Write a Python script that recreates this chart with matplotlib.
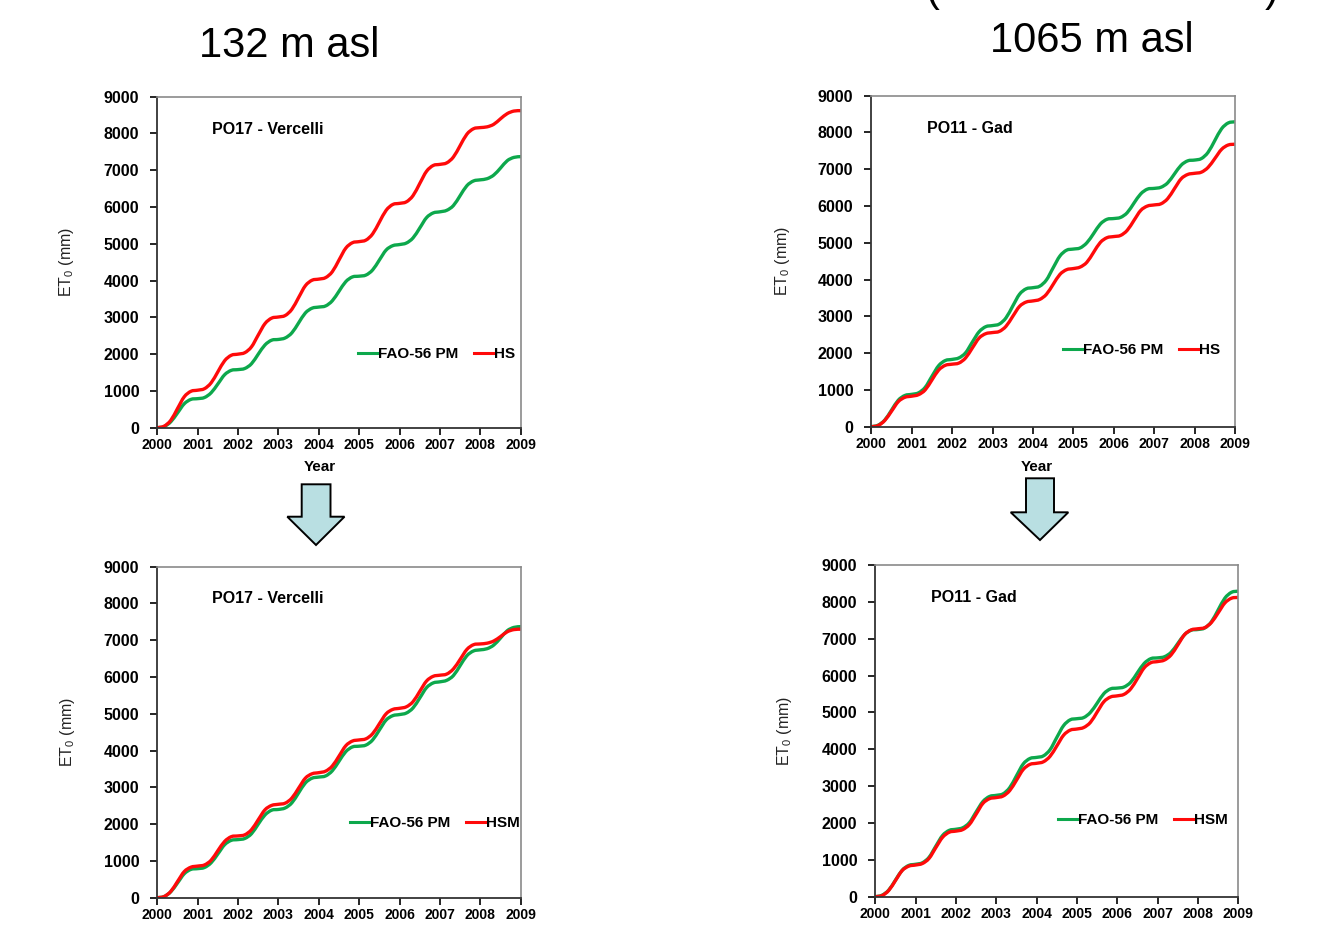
import numpy as np
import matplotlib
matplotlib.use("Agg")
import matplotlib.pyplot as plt
from matplotlib.path import Path
from matplotlib.patches import PathPatch, Polygon
from matplotlib.lines import Line2D

plt.rcParams["font.family"] = ["Liberation Sans", "DejaVu Sans"]
plt.rcParams["mathtext.default"] = "regular"

# ---------------------------------------------------------------- data
years = list(range(2000, 2010))
months = np.arange(0, 109, 2)          # bimonthly samples, Jan 2000 .. Jan 2009
t = years[0] + months / 12.0

station_low = "PO17 - Vercelli"
station_high = "PO11 - Gad"
elev_low = "132 m asl"
elev_high = "1065 m asl"

# cumulative reference evapotranspiration ET0 (mm)
fao_po17 = [0, 30, 160, 400, 650, 770,
            790, 820, 950, 1190, 1440, 1560,
            1580, 1610, 1740, 2000, 2250, 2380,
            2400, 2440, 2580, 2850, 3120, 3250,
            3280, 3310, 3450, 3710, 3970, 4100,
            4120, 4150, 4290, 4560, 4830, 4950,
            4980, 5020, 5160, 5430, 5710, 5840,
            5870, 5910, 6040, 6310, 6580, 6710,
            6740, 6770, 6870, 7060, 7260, 7350,
            7370]
hs_po17 = [0, 40, 200, 520, 840, 990,
           1020, 1060, 1220, 1520, 1820, 1970,
           2000, 2040, 2200, 2520, 2830, 2980,
           3010, 3050, 3220, 3540, 3860, 4010,
           4040, 4080, 4240, 4560, 4880, 5030,
           5060, 5100, 5270, 5590, 5910, 6070,
           6100, 6140, 6310, 6640, 6970, 7130,
           7160, 7200, 7360, 7670, 7980, 8130,
           8160, 8180, 8250, 8400, 8540, 8610,
           8620]
hsm_po17 = [0, 30, 170, 440, 710, 830,
            860, 890, 1020, 1280, 1530, 1660,
            1680, 1710, 1850, 2120, 2390, 2510,
            2540, 2570, 2710, 2980, 3250, 3370,
            3400, 3440, 3580, 3850, 4130, 4260,
            4290, 4320, 4460, 4730, 5000, 5120,
            5150, 5190, 5330, 5610, 5890, 6020,
            6050, 6080, 6220, 6480, 6750, 6880,
            6900, 6920, 6980, 7100, 7230, 7290,
            7300]
fao_po11 = [0, 40, 180, 450, 720, 850,
            880, 920, 1070, 1370, 1660, 1800,
            1830, 1870, 2010, 2300, 2580, 2720,
            2750, 2790, 2960, 3280, 3600, 3750,
            3780, 3820, 3990, 4320, 4640, 4800,
            4830, 4860, 5000, 5250, 5510, 5640,
            5660, 5690, 5820, 6080, 6330, 6460,
            6480, 6510, 6630, 6870, 7110, 7230,
            7250, 7290, 7460, 7780, 8100, 8260,
            8290]
hs_po11 = [0, 30, 170, 420, 680, 800,
           830, 870, 1000, 1270, 1540, 1670,
           1700, 1730, 1870, 2140, 2410, 2530,
           2560, 2590, 2730, 3000, 3270, 3390,
           3420, 3460, 3600, 3870, 4140, 4270,
           4300, 4340, 4470, 4740, 5010, 5140,
           5170, 5200, 5340, 5610, 5880, 6000,
           6030, 6060, 6200, 6470, 6740, 6860,
           6890, 6920, 7050, 7290, 7540, 7660,
           7680]
hsm_po11 = [0, 30, 170, 440, 710, 830,
            860, 900, 1040, 1330, 1610, 1750,
            1780, 1820, 1960, 2240, 2530, 2660,
            2690, 2730, 2880, 3160, 3450, 3590,
            3620, 3660, 3810, 4090, 4380, 4520,
            4550, 4590, 4730, 5010, 5290, 5420,
            5450, 5490, 5640, 5920, 6210, 6350,
            6380, 6420, 6560, 6830, 7110, 7240,
            7270, 7300, 7440, 7700, 7970, 8100,
            8120]

GREEN = "#0DA84C"
RED = "#FF0A0A"

W, H = 1330, 925
fig = plt.figure(figsize=(W / 100, H / 100), dpi=100)


def rect(left, top, right, bottom):
    return [left / W, 1 - bottom / H, (right - left) / W, (bottom - top) / H]


def smooth_path(x, y):
    """Catmull-Rom curve through the samples, expressed as cubic Bezier pieces."""
    x = np.asarray(x, float)
    y = np.asarray(y, float)
    px = np.concatenate([[x[0]], x, [x[-1]]])
    py = np.concatenate([[y[0]], y, [y[-1]]])
    verts = [(x[0], y[0])]
    codes = [Path.MOVETO]
    for i in range(1, len(px) - 2):
        c1 = (px[i] + (px[i + 1] - px[i - 1]) / 6, py[i] + (py[i + 1] - py[i - 1]) / 6)
        c2 = (px[i + 1] - (px[i + 2] - px[i]) / 6, py[i + 1] - (py[i + 2] - py[i]) / 6)
        verts += [c1, c2, (px[i + 1], py[i + 1])]
        codes += [Path.CURVE4] * 3
    return Path(verts, codes)


def panel(box, station, series, names, title_xy, leg_xy, ylab_x, year_xy=None):
    ax = fig.add_axes(rect(*box))
    ax.set_xlim(years[0], years[-1])
    ax.set_ylim(0, 9000)
    ax.set_xticks(years)
    ax.set_yticks(range(0, 9001, 1000))
    ax.tick_params(axis="x", direction="out", length=5, width=1.2, pad=2.5,
                   labelsize=10, colors="black")
    ax.tick_params(axis="y", direction="out", length=5, width=1.2, pad=8,
                   labelsize=11.5, colors="black")
    for lab in ax.get_xticklabels() + ax.get_yticklabels():
        lab.set_fontweight("bold")
    for side in ("left", "bottom"):
        ax.spines[side].set_color("#333333")
        ax.spines[side].set_linewidth(1.3)
    for side in ("top", "right"):
        ax.spines[side].set_color("#8a8a8a")
        ax.spines[side].set_linewidth(1.2)

    handles = []
    for values, color in zip(series, (GREEN, RED)):
        ax.add_patch(PathPatch(smooth_path(t, values), fill=False, edgecolor=color,
                               lw=2.4, capstyle="round", joinstyle="round"))
        handles.append(Line2D([], [], color=color, lw=2.2))

    ax.text(title_xy[0], title_xy[1], station, transform=ax.transAxes,
            ha="left", va="center", fontsize=11.5, fontweight="bold")
    ax.legend(handles, names, loc="center right", bbox_to_anchor=leg_xy,
              ncol=2, frameon=False, borderpad=0, borderaxespad=0,
              handlelength=1.3, handletextpad=0.0, columnspacing=1.05,
              prop={"weight": "bold", "size": 11})
    ax.text(ylab_x, 0.5, "ET$_0$ (mm)", transform=ax.transAxes, rotation=90,
            ha="center", va="center", fontsize=11.5, color="#222222")
    if year_xy is not None:
        ax.text(year_xy[0], year_xy[1], "Year", transform=ax.transAxes,
                ha="center", va="center", fontsize=11, fontweight="bold")
    return ax


panel((157.3, 96.7, 520.7, 427.7), station_low, (fao_po17, hs_po17),
      ("FAO-56 PM", "HS"), (0.151, 0.902), (0.984, 0.222), -0.249, (0.448, -0.118))
panel((871.3, 95.7, 1235.0, 426.7), station_high, (fao_po11, hs_po11),
      ("FAO-56 PM", "HS"), (0.154, 0.901), (0.959, 0.232), -0.2455, (0.455, -0.121))
panel((157.3, 566.7, 520.7, 897.7), station_low, (fao_po17, hsm_po17),
      ("FAO-56 PM", "HSM"), (0.151, 0.905), (0.998, 0.225), -0.248)
panel((875.3, 565.0, 1238.3, 896.7), station_high, (fao_po11, hsm_po11),
      ("FAO-56 PM", "HSM"), (0.153, 0.903), (0.970, 0.231), -0.249)


def down_arrow(sl, sr, top, hy, hl, hr, tip):
    pts = [(sl, top), (sr, top), (sr, hy), (hr, hy), (tip[0], tip[1]),
           (hl, hy), (sl, hy)]
    pts = [(x / W, 1 - y / H) for x, y in pts]
    fig.patches.append(Polygon(pts, closed=True, transform=fig.transFigure,
                               facecolor="#B9DFE2", edgecolor="black", lw=1.4))


down_arrow(301.7, 330.5, 484.3, 516.7, 287.3, 344.5, (316.0, 545.0))
down_arrow(1026.0, 1054.0, 478.3, 512.3, 1010.7, 1068.3, (1040.0, 540.0))

fig.text(289.5 / W, 1 - 56.7 / H, elev_low, ha="center", va="baseline", fontsize=30)
fig.text(1092 / W, 1 - 52.3 / H, elev_high, ha="center", va="baseline", fontsize=30)
# lower ends of the bracket pair from the heading line above the figure edge
fig.text(925 / W, 1 - 0.5 / H, "(", ha="left", va="baseline", fontsize=30)
fig.text(1265 / W, 1 - 0.5 / H, ")", ha="left", va="baseline", fontsize=30)

fig.savefig("out.png", dpi=100, facecolor="white")
